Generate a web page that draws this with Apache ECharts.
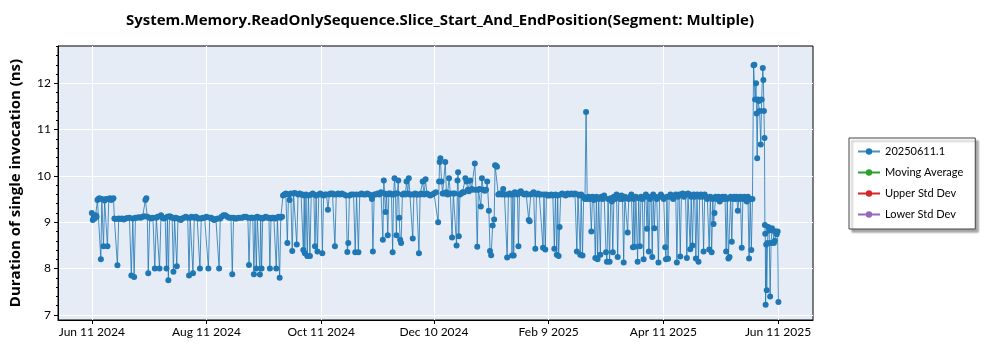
<!DOCTYPE html>
<html>
<head>
<meta charset="utf-8">
<script src="https://cdn.jsdelivr.net/npm/echarts@6/dist/echarts.min.js"></script>
<style>
html, body { margin: 0; background: #fff; }
#chart { width: 1000px; height: 350px; }
</style>
</head>
<body>
<div id="chart"></div>
<script>
// x values are days after Jun 11 2024, y values are ns per call
var daysA = [0,0.5,1,1.5,2,2.5,3,3.5,4,4.8,
    5.3,6.2,6.8,7.5,8.3,9,9.6,10.3,11,11.5,
    12];
var nsA = [9.2,9.05,9.1,9.08,9.15,9.12,9.48,9.5,9.52,8.2,
    9.5,8.48,9.47,9.5,8.48,9.5,9.52,9.48,9.5,9.52,
    9.08];

var daysB = [12.8,13.6,14.3,15,16,17,18,19,20,21,
    21.8,22.5,23.2,24,25,26,27,28,28.5,29,
    29.5,30,30.8,31.5,32.5,33.5,34.3,35,36,36.8,
    37.5,38.3,39,39.7,40.2,40.7,41.3,42,42.7,43.4,
    44,44.6,45.2,45.8,46.5,47.3,48,49,50,51,
    51.7,52.3,53,53.8,54.5,55.3,56,56.8,57.5,58.2,
    59,60,61,62,62.7,63.5,64.3,65,66,67,
    67.7,68.3,69,70,71,72,73,74,74.7,75.4,
    76.2,77,78,79,80,81,82,83,83.6,84.3,
    85,85.6,86.2,86.8,87.5,88,88.7,89.4,89.8,90.3,
    90.9,91.5,92.5,93.5,94.2,94.7,95.3,96,96.8,97.5,
    98.1,98.7,99.3,99.9,100.5,101.2];
var nsB = [9.07,8.07,9.08,9.07,9.08,9.06,9.08,9.09,9.1,7.85,
    9.08,7.82,9.1,9.1,9.11,9.1,9.12,9.13,9.48,9.52,
    9.12,7.9,9.1,9.08,9.1,8.0,9.1,9.12,8.0,9.15,
    9.1,9.08,9.1,8.0,9.12,7.75,9.13,9.12,9.1,7.93,
    9.08,9.1,8.05,9.08,9.07,9.05,9.08,9.1,9.12,9.1,
    7.85,9.1,9.12,7.9,9.1,9.12,9.1,9.08,8.0,9.08,
    9.1,9.1,9.12,8.0,9.1,9.1,9.07,9.05,9.07,9.08,
    8.0,9.08,9.12,9.15,9.15,9.12,9.1,9.1,7.88,9.1,
    9.08,9.08,9.1,9.1,9.1,9.12,9.12,9.1,8.08,9.1,
    9.1,9.1,7.88,9.1,8.0,9.12,9.1,7.87,9.1,8.0,
    9.08,9.1,9.12,9.1,9.1,8.0,9.08,9.1,9.1,9.08,
    8.0,9.1,9.12,7.8,9.1,9.12];

var daysC = [101.7,102.4,103.2,104,104.6,105.2,105.8,106.6,107.3,108,
    109,109.7,110.5,111.3,112,112.5,113,113.3,113.9,114.6,
    115.2,116,116.7,117.5,118.1,118.7,119.3,120,120.7,121.5,
    122,122.6,123.3,124,124.8,125.6,126.3,127,128,128.7,
    129.3,130,131,132,133,134,135.2,135.9,136.4,137,
    138,139.2,140.1,140.8,141.8,142.5,143.5,144.5,145.5,146.5,
    147.5,148.5,149,149.5,150.2,151,152,153];
var nsC = [9.58,9.6,9.62,8.55,9.6,9.48,9.62,8.38,9.62,9.63,
    8.52,9.6,9.62,9.6,9.6,8.4,9.58,8.33,9.6,8.27,
    9.58,8.27,9.6,9.62,9.6,8.48,9.58,8.37,9.6,9.62,
    9.6,8.33,9.58,9.6,9.6,9.27,9.6,9.62,9.62,9.6,
    8.48,9.6,9.62,9.6,9.62,9.6,9.58,8.36,8.55,9.58,
    9.6,9.6,8.35,9.6,8.35,9.6,9.62,9.6,9.6,9.62,
    9.6,9.58,9.5,8.37,9.6,9.6,9.62,9.6];

var daysD = [153.8,154.8,155.3,155.7,156.2,156.8,157.4,158,158.8,159.4,
    160,160.5,161,161.5,162,162.5,163,163.5,164,164.5,
    165.2,166,166.8,167.4,168,168.6,169.2,170,170.7,171.3,
    172,172.7,173.4,174,174.6,175.3,176,176.7,177.5,178.2,
    179,180,181,182,183,184.2,184.7,185,185.4,186,
    186.6,187.3,188,188.6,189.2,190,190.7,191.6,192.3,193,
    194,194.5,194.8,195.2,195.8,196.5,197.2,198,198.7,199.3,
    200,200.6,201.3,202,202.7,203.7,204.3,205,205.6,206.2,
    206.9,207.5,208.2,209,209.7,210.3,211.2,211.8,212.4,213.2,
    214,214.5,215,215.5,216.2];
var nsD = [9.65,8.62,9.9,9.62,9.22,9.6,8.72,9.62,9.62,9.6,
    8.35,9.6,9.95,9.62,8.72,9.62,9.9,9.1,8.62,8.55,
    9.6,9.62,9.6,9.88,9.62,9.95,9.6,9.6,8.65,9.6,
    9.62,9.6,9.6,8.33,9.6,9.62,9.88,9.6,9.93,9.62,
    9.6,9.58,9.6,9.62,9.65,9.0,9.88,10.3,10.38,9.88,
    9.62,9.62,10.3,9.65,9.6,9.95,9.62,8.67,9.62,9.62,
    8.5,9.9,10.08,8.7,9.6,9.62,9.65,9.65,9.95,9.88,
    9.7,9.67,9.9,9.72,9.7,10.27,9.7,8.47,9.7,9.72,
    9.34,9.95,9.7,9.68,9.7,9.88,9.25,8.38,8.29,8.93,
    9.06,10.23,10.22,10.2,9.6];

var daysE = [217,218,218.8,219.5,220.2,220.9,221.6,222.3,223,223.5,
    224,224.4,225,225.8,226.4,226.9,227.5,228.2,229,230,
    231,231.8,232.4,232.9,233.5,234.3,235,235.9,236.5,237.3,
    238,239,240,240.5,241.2,241.8,242.5,243.5,244.3,245.2,
    246,246.6,247.3,247.8,248.3,248.8,249.4,250.2,251,252,
    253,254,255,256,257,258,258.6,259.3,259.8,260.3,
    261,261.6,262.3,262.9,263.5];
var nsE = [9.62,9.6,9.72,9.6,9.6,8.24,9.6,9.62,9.6,8.28,
    9.6,8.28,9.65,9.62,9.6,8.48,9.65,9.67,9.62,9.6,
    9.62,9.6,9.05,9.02,9.6,9.62,9.65,8.43,9.6,9.62,
    9.6,9.6,8.45,9.6,8.41,9.6,9.58,9.58,9.6,9.58,
    8.43,9.6,8.3,9.58,8.27,8.9,9.6,9.62,9.6,9.58,
    9.62,9.6,9.62,9.6,9.62,8.37,9.6,9.58,8.3,9.6,
    8.28,9.55,9.5,11.38,9.5];

var daysF = [264.2,265,265.7,266.3,267,267.8,268.4,269,269.6,270.5,
    271,271.8,272.5,273.5,274,274.6,275.4,276,276.6,277.1,
    277.7,278.4,279.1,279.7,280.3,281,281.7,282.3,282.9,283.5,
    284.2,285,285.6,286.3,287,287.8,288.3,288.8,289.4,290.3,
    290.9,291.5,292.1,292.8,293.5,294.1,294.7,295.3,295.8,296.3,
    296.9,297.5,298.1,298.6,299.2,299.8,300.5,301.4,302,302.7,
    303.4,304.2,305,305.4,305.9,306.5,307.1,307.8,308.5,309.2,
    310,310.6,311.2,311.8,312.4,313,313.6,314.3,315,315.8,
    316.5,317.1,317.8,318.3,318.8,319.5,320.1,320.7,321.3,321.9,
    322.7,323.3,324,324.7,325.4,326,326.7,327.4,328.4,329,
    329.7,330.3,330.7,331.2,331.8,332.5,333.3,334,334.8,335.5,
    336.2,336.8,337.4,338,338.6,339.2,339.8,340.4,341,341.7,
    342.4,343,343.6,344.2,345,345.7,346.3,347,347.7,348.4,
    349,349.6,350.2,350.8,351.4];
var nsF = [9.55,9.5,8.8,9.55,9.48,8.23,9.55,8.2,9.5,8.3,
    9.55,9.5,9.58,8.35,8.15,9.5,8.15,9.52,9.45,8.35,
    9.55,9.5,9.6,8.25,9.55,9.5,9.58,9.5,8.13,9.55,
    9.52,8.78,9.5,9.55,9.6,8.46,9.5,8.47,9.55,8.15,
    9.52,8.48,9.55,9.5,8.2,9.55,9.6,8.86,9.55,8.37,
    9.5,9.55,8.25,9.6,8.87,9.55,9.5,8.13,9.55,9.6,
    9.55,9.5,8.46,8.2,9.55,8.21,9.55,9.6,9.55,9.5,
    9.55,9.6,8.13,9.55,9.6,8.26,9.6,9.62,9.55,9.6,
    8.23,9.62,9.6,8.42,9.55,8.5,9.6,9.55,8.22,9.6,
    8.15,9.55,9.6,9.55,8.37,9.6,9.55,9.5,8.41,9.55,
    8.35,9.5,8.96,9.2,9.55,9.5,9.55,9.45,9.5,9.55,
    9.5,9.55,8.37,9.5,8.22,8.25,9.55,8.58,9.5,9.55,
    9.5,9.55,9.25,9.5,9.55,8.45,9.5,9.55,9.5,9.45,
    9.55,8.22,9.5,8.4,9.5];

var daysG = [352,352.4,352.8,353.3,353.6,353.9,354.3,354.8,355.2,355.8,
    356.3,356.9,357.2,357.5,357.8];
var nsG = [12.39,12.4,11.65,12.0,11.35,10.38,11.65,11.62,11.4,10.68,
    11.65,12.33,12.07,11.4,10.82];

var daysH = [358,358.2,358.4,358.7,359,359.4,359.8,360.3,360.8,361.3,
    361.8,362.3,362.8,363.3,363.8,364.3,364.8,365.2];
var nsH = [8.94,8.75,7.22,8.52,7.53,8.55,8.9,8.82,7.4,8.55,
    8.87,8.82,8.55,8.6,8.8,8.74,8.8,7.28];

var xTickDays = [0, 61, 122, 182, 243, 304, 365];
var xTickLabels = ['Jun 11 2024', 'Aug 11 2024', 'Oct 11 2024', 'Dec 10 2024', 'Feb 9 2025', 'Apr 11 2025', 'Jun 11 2025'];
var yTicks = [7, 8, 9, 10, 11, 12];
var legendNames = ['20250611.1', 'Moving Average', 'Upper Std Dev', 'Lower Std Dev'];
var legendColors = ['#1f77b4', '#2ca02c', '#d62728', '#9467bd'];

var yMinorTicks = [];
for (var i = 35; i <= 64; i++) {
    if (i % 5 !== 0) yMinorTicks.push(i / 5);
}

var allDays = [].concat(daysA, daysB, daysC, daysD, daysE, daysF, daysG, daysH);
var allNs = [].concat(nsA, nsB, nsC, nsD, nsE, nsF, nsG, nsH);
var points = allDays.map(function (d, k) { return [d, allNs[k]]; });

var FONT = 'Lato, "Open Sans", sans-serif';
var BOLD_FONT = '"Open Sans", Lato, sans-serif';

var myChart = echarts.init(document.getElementById('chart'));
var option = {
    animation: false,
    backgroundColor: '#ffffff',
    title: {
        text: 'System.Memory.ReadOnlySequence.Slice_Start_And_EndPosition(Segment: Multiple)',
        left: 435,
        top: 8,
        textAlign: 'center',
        textStyle: { fontFamily: BOLD_FONT, fontSize: 15, fontWeight: 'bold', color: '#000' }
    },
    legend: {
        orient: 'vertical',
        left: 849,
        top: 138,
        data: legendNames,
        backgroundColor: '#fff',
        borderColor: '#444',
        borderWidth: 1,
        borderRadius: 0,
        padding: [6, 12, 7, 8],
        shadowColor: 'rgba(0,0,0,0.35)',
        shadowBlur: 2,
        shadowOffsetX: 3,
        shadowOffsetY: 3,
        itemWidth: 22,
        itemHeight: 8,
        itemGap: 6,
        textStyle: { fontFamily: FONT, fontSize: 11, color: '#000', lineHeight: 15 }
    },
    grid: {
        left: 57, right: 187, top: 46, bottom: 30,
        show: true,
        backgroundColor: '#e5ecf6',
        borderColor: '#000',
        borderWidth: 1
    },
    xAxis: {
        type: 'value',
        min: -18,
        max: 383.6,
        axisLine: { onZero: false, lineStyle: { color: '#000', width: 1 } },
        axisTick: { customValues: xTickDays, length: 4, lineStyle: { color: '#000' } },
        axisLabel: {
            customValues: xTickDays,
            formatter: function (v) { return xTickLabels[xTickDays.indexOf(v)]; },
            color: '#000', fontFamily: FONT, fontSize: 12, margin: 6
        },
        splitLine: { show: true, lineStyle: { color: '#fff', width: 1 } }
    },
    yAxis: [{
        type: 'value',
        min: 6.89,
        max: 12.805,
        name: 'Duration of single invocation (ns)',
        nameLocation: 'middle',
        nameGap: 35,
        nameTextStyle: { fontFamily: BOLD_FONT, fontSize: 15, fontWeight: 'bold', color: '#000' },
        axisLine: { show: true, onZero: false, lineStyle: { color: '#000', width: 1 } },
        axisTick: { customValues: yTicks, length: 4, lineStyle: { color: '#000' } },
        axisLabel: { customValues: yTicks, color: '#000', fontFamily: FONT, fontSize: 12, margin: 7 },
        splitLine: { show: true, lineStyle: { color: '#fff', width: 1 } }
    }, {
        type: 'value',
        min: 6.89,
        max: 12.805,
        position: 'left',
        axisLine: { show: false, onZero: false },
        axisTick: { show: true, customValues: yMinorTicks, length: 2, lineStyle: { color: '#000' } },
        axisLabel: { show: false },
        splitLine: { show: false }
    }],
    series: [{
        name: legendNames[0],
        type: 'line',
        data: points,
        symbol: 'circle',
        symbolSize: 6,
        showAllSymbol: true,
        color: legendColors[0],
        itemStyle: { color: legendColors[0] },
        lineStyle: { width: 1, color: 'rgba(31,119,180,0.8)' },
        emphasis: { disabled: true }
    }, {
        name: legendNames[1], type: 'line', data: [], symbol: 'circle', color: legendColors[1]
    }, {
        name: legendNames[2], type: 'line', data: [], symbol: 'circle', color: legendColors[2]
    }, {
        name: legendNames[3], type: 'line', data: [], symbol: 'circle', color: legendColors[3]
    }]
};
myChart.setOption(option);
</script>
</body>
</html>
